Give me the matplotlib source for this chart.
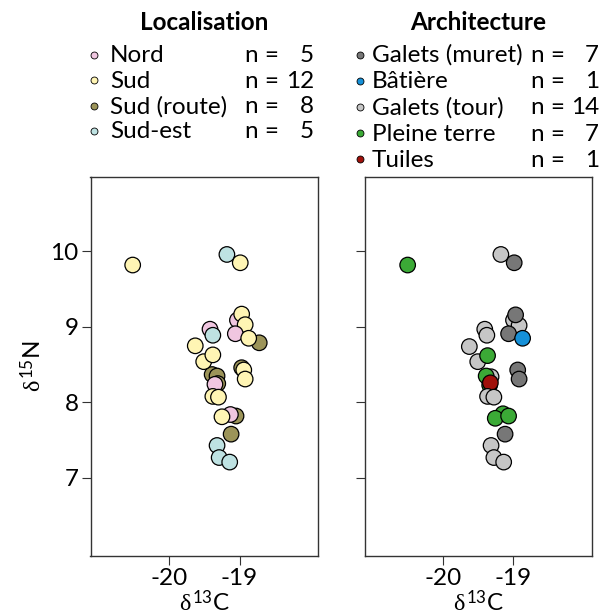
import matplotlib.pyplot as plt

plt.rcParams['font.family'] = ['Lato', 'DejaVu Sans']
plt.rcParams['mathtext.fontset'] = 'custom'
plt.rcParams['mathtext.rm'] = 'Lato'
plt.rcParams['mathtext.it'] = 'Liberation Serif'

# ---------------- Data: Localisation ----------------
loc_names = ['Nord', 'Sud', 'Sud (route)', 'Sud-est']
loc_colors = ['#F0C6E0', '#FFF5B4', '#9C9459', '#BEE2E2']
loc_counts = [5, 12, 8, 5]

loc_x = [-19.03, -18.97, -19.39, -19.32, -19.31, -19.35, -19.05, -19.13, -19.25,
         -18.97, -18.92, -19.06, -18.72, -18.87, -19.42, -19.38, -19.63, -19.51,
         -19.38, -18.94, -18.92, -19.38, -19.30, -19.12, -19.32, -19.29, -19.14,
         -20.52, -19.18, -18.99]
loc_y = [9.09, 8.46, 8.37, 8.35, 8.25, 8.24, 7.82, 7.84, 7.81,
         9.17, 9.03, 8.91, 8.79, 8.85, 8.97, 8.89, 8.75, 8.54,
         8.63, 8.43, 8.31, 8.08, 8.07, 7.58, 7.43, 7.27, 7.21,
         9.82, 9.96, 9.85]
loc_group = [0, 2, 2, 2, 2, 0, 2, 0, 1,
             1, 1, 0, 2, 1, 0, 3, 1, 1,
             1, 1, 1, 1, 1, 2, 3, 3, 3,
             1, 3, 1]

# ---------------- Data: Architecture ----------------
arch_names = ['Galets (muret)', 'Bâtière', 'Galets (tour)', 'Pleine terre', 'Tuiles']
arch_colors = ['#777777', '#1590D8', '#C6C6C6', '#3BAA36', '#A0110B']
arch_counts = [7, 1, 14, 7, 1]

arch_x = [-19.00, -18.92, -18.97, -19.07, -18.87, -19.41, -19.38, -19.63, -19.51,
          -19.37, -18.94, -18.92, -19.32, -19.39, -19.34, -19.33, -19.37, -19.28,
          -19.15, -19.26, -19.07, -19.12, -19.32, -19.28, -19.14,
          -20.51, -19.18, -18.99]
arch_y = [9.09, 9.02, 9.16, 8.91, 8.85, 8.97, 8.89, 8.74, 8.54,
          8.62, 8.43, 8.31, 8.34, 8.35, 8.23, 8.26, 8.08, 8.07,
          7.85, 7.79, 7.82, 7.58, 7.43, 7.27, 7.21,
          9.82, 9.96, 9.85]
arch_group = [2, 2, 0, 0, 1, 2, 2, 2, 2,
              3, 0, 0, 2, 3, 3, 4, 2, 2,
              3, 3, 3, 0, 2, 2, 2,
              3, 2, 0]

x_ticks = [-20, -19]
y_ticks = [7, 8, 9, 10]

# ---------------- Plot ----------------
W, H = 608, 616
fig = plt.figure(figsize=(W / 100, H / 100), dpi=100)
ax1 = fig.add_axes([90.5 / W, 1 - 555.7 / H, 227.8 / W, 379 / H])
ax2 = fig.add_axes([364.9 / W, 1 - 555.7 / H, 227.1 / W, 379 / H])
over = fig.add_axes([0, 0, 1, 1])
over.set_xlim(0, W)
over.set_ylim(H, 0)
over.axis('off')

FS = 17.5

for ax, xs, ys, grp, cols in [(ax1, loc_x, loc_y, loc_group, loc_colors),
                              (ax2, arch_x, arch_y, arch_group, arch_colors)]:
    ax.scatter(xs, ys, s=125, c=[cols[g] for g in grp],
               edgecolors='black', linewidths=0.9, zorder=3)
    ax.set_xlim(-21.12, -17.88)
    ax.set_ylim(5.97, 10.99)
    ax.set_xticks(x_ticks)
    ax.set_xticklabels([str(t) for t in x_ticks])
    ax.set_yticks(y_ticks)
    ax.tick_params(direction='out', length=6.5, width=0.8, labelsize=FS,
                   color='#333333', pad=2)
    for s in ax.spines.values():
        s.set_linewidth(1.0)
        s.set_color('#333333')
    ax.set_xlabel(r'$\delta^{13}$C', fontsize=FS)
    ax.xaxis.set_label_coords(0.5, -0.088)

ax2.set_yticklabels([])
ax1.set_ylabel(r'$\delta^{15}$N', fontsize=FS)
ax1.yaxis.set_label_coords(-0.2, 0.5)


def legend(title, cx, mx, tx, nx, ex, y0, dy, names, cols, counts):
    over.text(cx, 30, title, ha='center', va='baseline', fontsize=FS,
              fontweight='bold')
    for i, (nm, col, n) in enumerate(zip(names, cols, counts)):
        y = y0 + i * dy
        over.plot(mx, y, 'o', ms=5, mfc=col, mec='black', mew=0.6)
        over.text(tx, y + 7.5, nm, va='baseline', fontsize=FS)
        over.text(nx, y + 7.5, 'n =', va='baseline', fontsize=FS)
        over.text(ex, y + 7.5, str(n), ha='right', va='baseline', fontsize=FS)


legend('Localisation', 204, 94, 110, 245, 314, 55, 25.3,
       loc_names, loc_colors, loc_counts)
legend('Architecture', 478, 360, 372, 531, 599, 54.5, 26.2,
       arch_names, arch_colors, arch_counts)

fig.savefig('out.png', dpi=100)
